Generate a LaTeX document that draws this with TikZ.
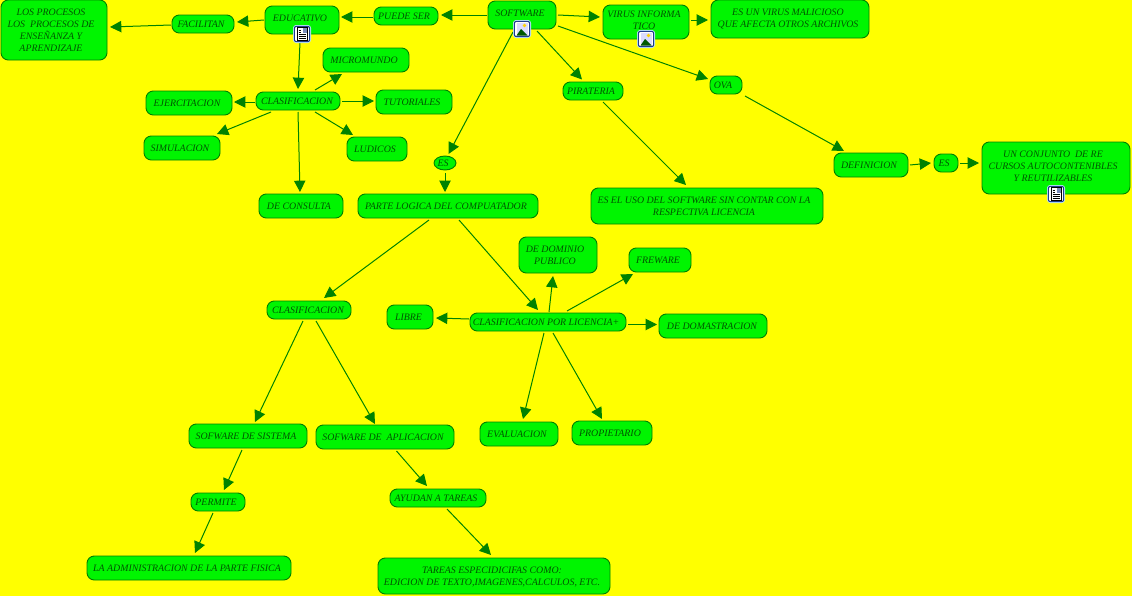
\documentclass[tikz,border=0pt]{standalone}
\usepackage{fontspec}
\setmainfont{Liberation Serif}
\usetikzlibrary{arrows.meta,shapes.geometric}
\definecolor{bgy}{RGB}{255,255,0}
\definecolor{boxg}{RGB}{0,245,0}
\definecolor{edge}{RGB}{0,130,0}
\definecolor{txt}{RGB}{0,85,0}
\definecolor{icb}{RGB}{30,60,140}
\tikzset{
  x=0.75pt,y=-0.75pt,
  cmbox/.style={draw=edge,fill=boxg,line width=0.7pt,rounded corners=5.5pt,inner sep=0pt,text=txt,font=\fontsize{7.4pt}{9pt}\selectfont\itshape},
  conn/.style={draw=edge,line width=0.75pt,-{Triangle[length=8.5pt,width=8.5pt,fill=edge]}},
  iconbg/.style={draw=icb,fill=white,line width=0.8pt,rounded corners=1.5pt,minimum size=11.5pt,inner sep=0pt,preaction={draw=cyan!25!white,line width=2pt}}
}
\newsavebox{\txtbox}
% name, x1,y1,x2,y2, extra dx (px), dy (pt up), text
\newcommand{\bx}[8]{%
  \pgfmathsetmacro{\boxw}{(#4-#2)*0.75}\pgfmathsetmacro{\boxh}{(#5-#3)*0.75}%
  \pgfmathsetmacro{\kernx}{-3+1.5*(#6)}%
  \node[cmbox,minimum width=\boxw pt,minimum height=\boxh pt] (#1) at ({(#2+#4)/2},{(#3+#5)/2})
    {\sbox{\txtbox}{\itshape\begin{tabular}{@{}c@{}}#8\end{tabular}}\kern\kernx pt\raisebox{#7pt}[\ht\txtbox][\dp\txtbox]{\usebox{\txtbox}}};}
% connector: from node, offset; to node, offset (pixels from node centre)
\newcommand{\cn}[6]{\draw[conn] ([shift={(#2,#3)}]#1.center) -- ([shift={(#5,#6)}]#4.center);}
\newcommand{\docicon}[3]{%
  \node[iconbg] (#1) at (#2,#3) {};
  \draw[black,fill=white,line width=0.5pt] ([shift={(-5,-6.5)}]#1.center) rectangle ([shift={(5,6.5)}]#1.center);
  \fill[icb!60!white] ([shift={(0.5,-6.5)}]#1.center) rectangle ([shift={(5,-1.5)}]#1.center);
  \foreach \yy/\xe in {-4/-1,-2/-1,0/4,2/4,4/4}{\draw[black,line width=0.65pt] ([shift={(-3.5,\yy)}]#1.center) -- ([shift={(\xe,\yy)}]#1.center);}
}
\newcommand{\imgicon}[3]{%
  \node[iconbg] (#1) at (#2,#3) {};
  \fill[blue!14!white] ([shift={(-5.5,-6.5)}]#1.center) rectangle ([shift={(5.5,6.5)}]#1.center);
  \fill[yellow!70!orange] ([shift={(2.5,-3.5)}]#1.center) circle[radius=1.8];
  \fill[green!35!black] ([shift={(-5.5,6.5)}]#1.center) -- ([shift={(-1,0)}]#1.center) -- ([shift={(5.5,6.5)}]#1.center) -- cycle;
}
\begin{document}
\begin{tikzpicture}
\useasboundingbox (0,0) rectangle (1132,596);
\fill[bgy] (0,0) rectangle (1132,596);
\bx{los}{1}{0}{107}{60}{-1}{-0.9}{LOS PROCESOS\\LOS~ PROCESOS DE\\ENSEÑANZA Y\\APRENDIZAJE}
\bx{fac}{172}{15}{234}{33}{0}{-0.9}{FACILITAN}
\bx{edu}{265}{6}{339}{34}{0}{0.6}{EDUCATIVO}
\bx{pue}{374}{7}{438}{25}{0}{-0.9}{PUEDE SER}
\bx{sof}{488}{1}{556}{29}{0}{0.6}{SOFTWARE}
\bx{vir}{603}{5}{689}{39}{0}{0.45}{VIRUS INFORMA\\TICO}
\bx{esv}{711}{0}{869}{38}{0}{-0.3}{ES UN VIRUS MALICIOSO\\QUE AFECTA OTROS ARCHIVOS}
\bx{mic}{323}{48}{409}{72}{0}{-0.9}{MICROMUNDO}
\bx{eje}{146}{91}{232}{115}{0}{-0.9}{EJERCITACION}
\bx{cla}{256}{92}{340}{110}{1}{-0.9}{CLASIFICACION}
\bx{tut}{376}{90}{452}{114}{0}{-0.9}{TUTORIALES}
\bx{sim}{144}{136}{220}{160}{0}{-0.9}{SIMULACION}
\bx{lud}{347}{137}{407}{161}{0}{-0.9}{LUDICOS}
\bx{con}{259}{194}{343}{218}{0}{-0.9}{DE CONSULTA}
\bx{pir}{563}{82}{623}{100}{0}{-0.9}{PIRATERIA}
\bx{ova}{710}{76}{742}{94}{-1}{-0.9}{OVA}
\bx{ese}{591}{188}{823}{224}{-1}{-0.9}{ES EL USO DEL SOFTWARE SIN CONTAR CON LA\\RESPECTIVA LICENCIA}
\bx{par}{358}{194}{538}{218}{0}{-0.9}{PARTE LOGICA DEL COMPUATADOR}
\bx{def}{834}{153}{908}{177}{0}{-0.9}{DEFINICION}
\bx{es2}{934}{154}{958}{172}{0}{-0.9}{ES}
\bx{unc}{982}{142}{1130}{194}{-1}{0.8}{UN CONJUNTO~ DE RE\\CURSOS AUTOCONTENIBLES\\Y REUTILIZABLES}
\bx{dom}{519}{237}{597}{273}{-1}{-0.9}{DE DOMINIO\\PUBLICO}
\bx{fre}{629}{248}{691}{272}{0}{-0.9}{FREWARE}
\bx{lib}{387}{305}{433}{329}{0.5}{-0.9}{LIBRE}
\bx{lic}{470}{313}{626}{331}{0}{-0.9}{CLASIFICACION POR LICENCIA+}
\bx{dem}{659}{314}{767}{338}{1}{-0.9}{DE DOMASTRACION}
\bx{cl2}{267}{301}{351}{319}{1}{-0.9}{CLASIFICACION}
\bx{eva}{480}{422}{558}{446}{0}{-0.9}{EVALUACION}
\bx{pro}{572}{421}{652}{445}{0}{-0.9}{PROPIETARIO}
\bx{sis}{189}{424}{307}{448}{0}{-0.9}{SOFWARE DE SISTEMA}
\bx{apl}{316}{425}{454}{449}{0}{-0.9}{SOFWARE DE~ APLICACION}
\bx{per}{191}{493}{245}{511}{0}{-0.9}{PERMITE}
\bx{ayu}{390}{489}{486}{507}{0}{-0.9}{AYUDAN A TAREAS}
\bx{adm}{87}{556}{291}{580}{0}{-0.9}{LA ADMINISTRACION DE LA PARTE FISICA}
\bx{tar}{378}{558}{610}{594}{0}{-0.9}{TAREAS ESPECIDICIFAS COMO:\\EDICION DE TEXTO,IMAGENES,CALCULOS, ETC.}
\node[cmbox,ellipse,minimum width=16.5pt,minimum height=10.5pt] (es1) at (445,163) {\kern-3pt ES};
% connectors (offsets in px from node centres)
\cn{sof}{-35}{0}{pue}{35}{-1}
\cn{pue}{-33}{1}{edu}{39}{-3}
\cn{edu}{-38}{0}{fac}{34}{-2}
\cn{fac}{-32}{1}{los}{56}{-3}
\cn{edu}{-2}{22}{cla}{0}{-12}
\cn{cla}{17}{-11}{mic}{-24}{14}
\cn{cla}{-43}{1}{eje}{45}{-1}
\cn{cla}{44}{0}{tut}{-40}{-1}
\cn{cla}{-27}{11}{sim}{35}{-14}
\cn{cla}{17}{11}{lud}{-24}{-14}
\cn{cla}{0}{11}{con}{-1}{-14}
\cn{sof}{-9}{17}{es1}{3.5}{-9}
\cn{es1}{0}{10}{par}{-3}{-14}
\cn{sof}{36}{0}{vir}{-46}{-5}
\cn{vir}{45}{-2}{esv}{-82}{1}
\cn{sof}{15}{16}{pir}{-11}{-11.5}
\cn{sof}{36}{11}{ova}{-18}{-6}
\cn{pir}{10}{11}{ese}{-21}{-21}
\cn{ova}{19}{11}{def}{-27}{-14}
\cn{def}{39}{0}{es2}{-15}{0}
\cn{es2}{14}{0}{unc}{-77}{-5}
\cn{par}{-19}{14}{cl2}{15}{-12}
\cn{par}{11}{14}{lic}{-10}{-12}
\cn{lic}{1}{-10}{dom}{-5}{21}
\cn{lic}{19}{-11}{fre}{-27}{14}
\cn{lic}{-79}{-3}{lib}{26}{1}
\cn{lic}{80}{2.5}{dem}{-56}{-1.5}
\cn{lic}{-4}{11}{eva}{4}{-15}
\cn{lic}{5}{11}{pro}{-10}{-14}
\cn{cl2}{-6}{11}{sis}{7}{-14}
\cn{cl2}{7}{11}{apl}{-10}{-13}
\cn{sis}{-6}{14}{per}{6}{-12}
\cn{per}{-5}{11}{adm}{6}{-15}
\cn{apl}{11.5}{14}{ayu}{-11}{-12}
\cn{ayu}{9}{11}{tar}{-3}{-21}
% icons
\docicon{ic1}{302}{34}
\imgicon{ic2}{522}{29}
\imgicon{ic3}{646}{39}
\docicon{ic4}{1056}{194}
\end{tikzpicture}
\end{document}
